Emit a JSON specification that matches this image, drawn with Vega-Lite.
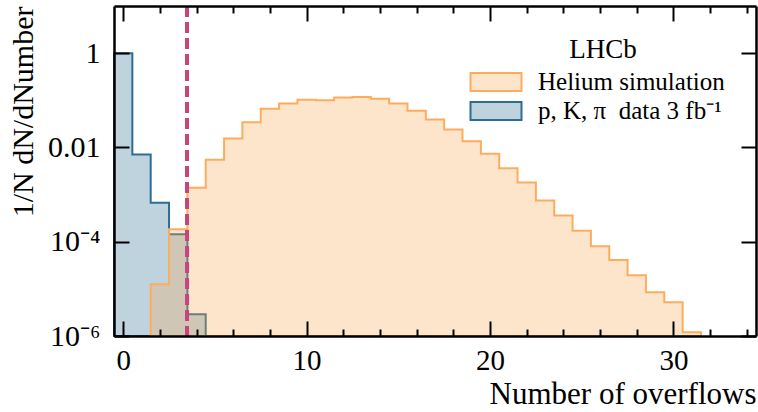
{
  "$schema": "https://vega.github.io/schema/vega-lite/v6.json",
  "width": 642,
  "height": 330,
  "autosize": {"type": "none"},
  "padding": {"left": 114, "top": 6, "right": 2, "bottom": 76},
  "background": "white",
  "config": {"view": {"stroke": null}, "font": "Liberation Serif"},
  "data": {
    "values": [
      {"series": "p, K, π \u00a0data 3 fb⁻¹", "lo": -0.5, "v": 0.99},
      {"series": "p, K, π \u00a0data 3 fb⁻¹", "lo": 0.5, "v": 0.0071},
      {"series": "p, K, π \u00a0data 3 fb⁻¹", "lo": 1.5, "v": 0.00067},
      {"series": "p, K, π \u00a0data 3 fb⁻¹", "lo": 2.5, "v": 0.000144},
      {"series": "p, K, π \u00a0data 3 fb⁻¹", "lo": 3.5, "v": 0.0000029},
      {"series": "p, K, π \u00a0data 3 fb⁻¹", "lo": 4.5, "v": 0.0000029},
      {"series": "Helium simulation", "lo": 1.5, "v": 0.0000126},
      {"series": "Helium simulation", "lo": 2.5, "v": 0.000184},
      {"series": "Helium simulation", "lo": 3.5, "v": 0.0014},
      {"series": "Helium simulation", "lo": 4.5, "v": 0.0055},
      {"series": "Helium simulation", "lo": 5.5, "v": 0.0154},
      {"series": "Helium simulation", "lo": 6.5, "v": 0.034},
      {"series": "Helium simulation", "lo": 7.5, "v": 0.066},
      {"series": "Helium simulation", "lo": 8.5, "v": 0.085},
      {"series": "Helium simulation", "lo": 9.5, "v": 0.103},
      {"series": "Helium simulation", "lo": 10.5, "v": 0.1},
      {"series": "Helium simulation", "lo": 11.5, "v": 0.114},
      {"series": "Helium simulation", "lo": 12.5, "v": 0.117},
      {"series": "Helium simulation", "lo": 13.5, "v": 0.108},
      {"series": "Helium simulation", "lo": 14.5, "v": 0.085},
      {"series": "Helium simulation", "lo": 15.5, "v": 0.06},
      {"series": "Helium simulation", "lo": 16.5, "v": 0.039},
      {"series": "Helium simulation", "lo": 17.5, "v": 0.024},
      {"series": "Helium simulation", "lo": 18.5, "v": 0.0135},
      {"series": "Helium simulation", "lo": 19.5, "v": 0.0073},
      {"series": "Helium simulation", "lo": 20.5, "v": 0.0036},
      {"series": "Helium simulation", "lo": 21.5, "v": 0.0018},
      {"series": "Helium simulation", "lo": 22.5, "v": 0.00075},
      {"series": "Helium simulation", "lo": 23.5, "v": 0.00036},
      {"series": "Helium simulation", "lo": 24.5, "v": 0.00017},
      {"series": "Helium simulation", "lo": 25.5, "v": 0.00008},
      {"series": "Helium simulation", "lo": 26.5, "v": 0.000041},
      {"series": "Helium simulation", "lo": 27.5, "v": 0.0000195},
      {"series": "Helium simulation", "lo": 28.5, "v": 0.0000085},
      {"series": "Helium simulation", "lo": 29.5, "v": 0.0000052},
      {"series": "Helium simulation", "lo": 30.5, "v": 0.0000012},
      {"series": "Helium simulation", "lo": 31.5, "v": 0.0000012}
    ]
  },
  "layer": [
    {
      "transform": [{"filter": "datum.series != 'Helium simulation'"}],
      "mark": {"type": "area", "interpolate": "step-after", "fillOpacity": 0.3, "strokeWidth": 2},
      "encoding": {
        "x": {"field": "lo", "type": "quantitative", "scale": {"domain": [-0.5, 34.5], "nice": false, "zero": false},
          "axis": {"orient": "bottom", "values": [0, 10, 20, 30], "tickSize": -15, "tickWidth": 2, "tickColor": "black",
            "labelFont": "Liberation Serif", "labelFontSize": 29, "labelColor": "black", "labelPadding": 25, "labelFlush": false, "labelOverlap": false,
            "title": "Number of overflows", "titleFont": "Liberation Serif", "titleFontSize": 31, "titleFontWeight": "normal", "titleColor": "black",
            "titleAnchor": "end", "titlePadding": 4, "domain": true, "domainColor": "black", "domainWidth": 2.5, "grid": false, "zindex": 1}},
        "y": {"field": "v", "type": "quantitative", "scale": {"type": "log", "domain": [0.000001, 10], "nice": false},
          "axis": {"orient": "left", "values": [0.000001, 0.0001, 0.01, 1], "tickSize": -15, "tickWidth": 2, "tickColor": "black",
            "labelExpr": "datum.value > 0.5 ? '1' : datum.value > 0.005 ? '0.01' : datum.value > 0.00005 ? '10⁻⁴' : '10⁻⁶'",
            "labelFont": "Liberation Serif", "labelFontSize": 30, "labelColor": "black", "labelPadding": 29, "labelFlush": false, "labelOverlap": false,
            "title": "1/N dN/dNumber", "titleFont": "Liberation Serif", "titleFontSize": 30, "titleFontWeight": "normal", "titleColor": "black",
            "titleAnchor": "end", "titleX": -76, "domain": true, "domainColor": "black", "domainWidth": 2.5, "grid": false, "zindex": 1}},
        "y2": {"datum": 0.000001},
        "fill": {"field": "series", "type": "nominal",
          "scale": {"domain": ["Helium simulation", "p, K, π \u00a0data 3 fb⁻¹"], "range": ["#f8a855", "#2c6e93"]},
          "legend": {"orient": "none", "legendX": 368, "legendY": 31, "title": "\u2003LHCb", "titleFont": "Liberation Serif", "titleFontSize": 27,
            "titleFontWeight": "normal", "titleColor": "black", "titleAnchor": "middle", "titlePadding": 4,
            "labelFont": "Liberation Serif", "labelFontSize": 25, "labelColor": "black", "labelLimit": 400, "labelOffset": 28,
            "symbolType": "M-2,-0.7L2,-0.7L2,0.7L-2,0.7Z", "symbolSize": 650, "symbolStrokeWidth": 2, "rowPadding": 2, "padding": 0,
            "encode": {"symbols": {"update": {"fillOpacity": {"value": 0.3}}}}}},
        "stroke": {"field": "series", "type": "nominal",
          "scale": {"domain": ["Helium simulation", "p, K, π \u00a0data 3 fb⁻¹"], "range": ["#fdac5e", "#2c6e93"]},
          "legend": {"orient": "none", "legendX": 368, "legendY": 31, "title": "\u2003LHCb", "titleFont": "Liberation Serif", "titleFontSize": 27,
            "titleFontWeight": "normal", "titleColor": "black", "titleAnchor": "middle", "titlePadding": 4,
            "labelFont": "Liberation Serif", "labelFontSize": 25, "labelColor": "black", "labelLimit": 400, "labelOffset": 28,
            "symbolType": "M-2,-0.7L2,-0.7L2,0.7L-2,0.7Z", "symbolSize": 650, "symbolStrokeWidth": 2, "rowPadding": 2, "padding": 0,
            "encode": {"symbols": {"update": {"fillOpacity": {"value": 0.3}}}}}}
      }
    },
    {
      "transform": [{"filter": "datum.series == 'Helium simulation'"}],
      "mark": {"type": "area", "interpolate": "step-after", "fillOpacity": 0.3, "strokeOpacity": 0},
      "encoding": {
        "x": {"field": "lo", "type": "quantitative",
          "axis": {"orient": "bottom", "values": [2, 4, 6, 8, 12, 14, 16, 18, 22, 24, 26, 28, 32, 34], "tickSize": -7, "tickWidth": 2, "tickColor": "black",
            "labels": false, "title": null, "domain": false, "grid": false, "zindex": 1}},
        "y": {"field": "v", "type": "quantitative",
          "axis": {"orient": "right", "values": [0.000001, 0.0001, 0.01, 1], "tickSize": -15, "tickWidth": 2, "tickColor": "black",
            "labels": false, "title": null, "domain": true, "domainColor": "black", "domainWidth": 2.5, "grid": false, "zindex": 1}},
        "y2": {"datum": 0.000001},
        "fill": {"field": "series", "type": "nominal"},
        "stroke": {"field": "series", "type": "nominal"}
      }
    },
    {
      "transform": [{"filter": "datum.series == 'Helium simulation'"}],
      "mark": {"type": "area", "interpolate": "step-after", "fillOpacity": 0, "strokeWidth": 2},
      "encoding": {
        "x": {"field": "lo", "type": "quantitative",
          "axis": {"orient": "top", "values": [2, 4, 6, 8, 12, 14, 16, 18, 22, 24, 26, 28, 32, 34], "tickSize": -7, "tickWidth": 2, "tickColor": "black",
            "labels": false, "title": null, "domain": false, "grid": false, "zindex": 1}},
        "y": {"field": "v", "type": "quantitative", "axis": null},
        "y2": {"datum": 0.000001},
        "fill": {"field": "series", "type": "nominal"},
        "stroke": {"field": "series", "type": "nominal"}
      }
    },
    {
      "mark": {"type": "rule", "color": "#c9447a", "strokeWidth": 3, "strokeDash": [11, 5]},
      "encoding": {
        "x": {"datum": 3.5, "type": "quantitative",
          "axis": {"orient": "top", "values": [0, 10, 20, 30], "tickSize": -15, "tickWidth": 2, "tickColor": "black",
            "labels": false, "title": null, "domain": true, "domainColor": "black", "domainWidth": 2.5, "grid": false, "zindex": 1}}
      }
    }
  ],
  "resolve": {"axis": {"x": "independent", "y": "independent"}}
}
